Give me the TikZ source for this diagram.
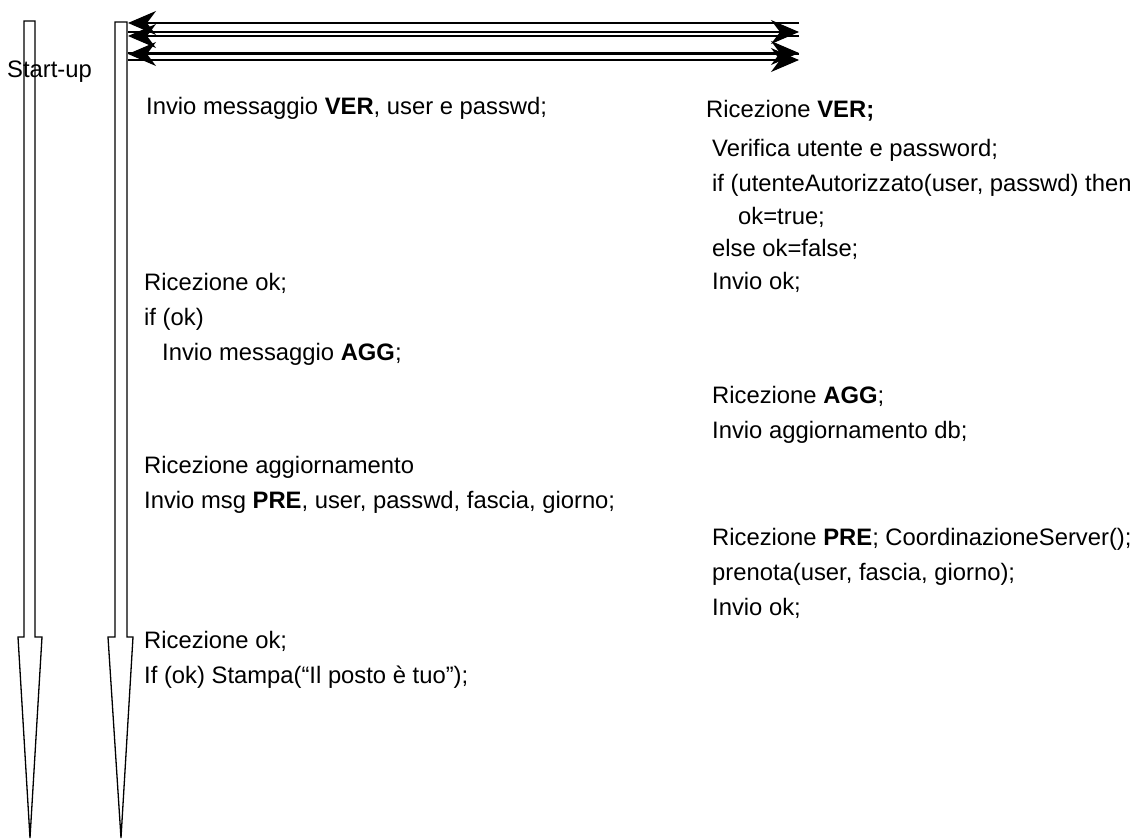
\documentclass[tikz,border=0pt]{standalone}
\usepackage{fontspec}
\setmainfont{Liberation Sans}
\usepackage{tikz}
\usetikzlibrary{arrows.meta, positioning}

\begin{document}
\begin{tikzpicture}[x=1pt, y=-1pt,
  lane/.style={draw=black, line width=1.3pt, line join=miter},
  msg/.style={draw=black, line width=1.2pt, -{Stealth[length=28pt, width=24pt, inset=9pt]}},
  txt/.style={anchor=base west, inner sep=0pt, font=\fontsize{23.8}{34}\selectfont}
]
\useasboundingbox (0,0) rectangle (1146,840);

% time lines
\draw[lane] (24,21) -- (35,21) -- (35,637) -- (42,637) -- (30,838) -- (18,637) -- (24,637) -- cycle;
\draw[lane] (115,22) -- (127,22) -- (127,637) -- (133,637) -- (121,838) -- (108,637) -- (115,637) -- cycle;

% message ends
\coordinate (cl1) at (128,23);  \coordinate (sr1) at (799,23);
\coordinate (cl2) at (128,36);  \coordinate (sr2) at (799,36);
\coordinate (cl3) at (128,54);  \coordinate (sr3) at (799,54);
\coordinate (cr1) at (128,32);  \coordinate (sl1) at (799,32);
\coordinate (cr2) at (128,53);  \coordinate (sl2) at (799,53);
\coordinate (cr3) at (128,60);  \coordinate (sl3) at (799,60);

\draw[msg] (sr1) -- (cl1);
\draw[msg] (sr2) -- (cl2);
\draw[msg] (sr3) -- (cl3);
\draw[msg] (cr1) -- (sl1);
\draw[msg] (cr2) -- (sl2);
\draw[msg] (cr3) -- (sl3);

\node[txt] (su) at (7,78) {Start-up};

% client
\node[txt] (l1) at (146,115) {Invio messaggio \textbf{VER}, user e passwd;};
\node[txt] (l2) at (144,290) {Ricezione ok;};
\node[txt, below=35pt of l2.base west, anchor=base west] (l3) {if (ok)};
\node[txt, below right=35pt and 18pt of l3.base west, anchor=base west] (l4) {Invio messaggio \textbf{AGG};};
\node[txt] (l5) at (144,473) {Ricezione aggiornamento};
\node[txt, below=35pt of l5.base west, anchor=base west] (l6) {Invio msg \textbf{PRE}, user, passwd, fascia, giorno;};
\node[txt] (l7) at (144,648) {Ricezione ok;};
\node[txt, below=35pt of l7.base west, anchor=base west] (l8) {If (ok) Stampa(“Il posto è tuo”);};

% server
\node[txt] (r1) at (706,118) {Ricezione \textbf{VER;}};
\node[txt] (r2) at (712,157) {Verifica utente e password;};
\node[txt, below=34pt of r2.base west, anchor=base west] (r3) {if (utenteAutorizzato(user, passwd) then};
\node[txt, below right=33pt and 26pt of r3.base west, anchor=base west] (r4) {ok=true;};
\node[txt, below=65pt of r3.base west, anchor=base west] (r5) {else ok=false;};
\node[txt, below=33pt of r5.base west, anchor=base west] (r6) {Invio ok;};
\node[txt] (r7) at (712,403) {Ricezione \textbf{AGG};};
\node[txt, below=35pt of r7.base west, anchor=base west] (r8) {Invio aggiornamento db;};
\node[txt] (r9) at (712,545) {Ricezione \textbf{PRE}; CoordinazioneServer();};
\node[txt, below=35pt of r9.base west, anchor=base west] (r10) {prenota(user, fascia, giorno);};
\node[txt, below=35pt of r10.base west, anchor=base west] (r11) {Invio ok;};
\end{tikzpicture}
\end{document}
